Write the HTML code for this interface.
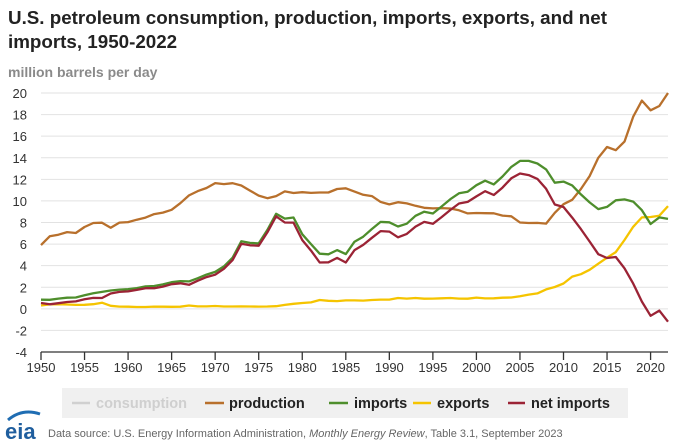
<!DOCTYPE html>
<html><head><meta charset="utf-8"><style>
body{margin:0;background:#fff;width:680px;height:442px;overflow:hidden;font-family:"Liberation Sans",sans-serif}
</style></head><body>
<svg width="680" height="442" viewBox="0 0 680 442" id="svg">
<text x="8" y="24" font-size="18.8" font-weight="bold" fill="#222">U.S. petroleum consumption, production, imports, exports, and net</text>
<text x="8" y="48" font-size="18.8" font-weight="bold" fill="#222">imports, 1950-2022</text>
<text x="8" y="77" font-size="14" font-weight="bold" fill="#8a8a8a">million barrels per day</text>
<g id="grid"></g><g id="lines"></g><g id="xaxis"></g>
<rect x="62" y="388" width="566" height="30" fill="#f0f0f0"/>
<g font-size="14.5" font-weight="bold" fill="#222">
<line x1="72" y1="403" x2="90" y2="403" stroke="#d0d0d0" stroke-width="2.5"/>
<text x="96" y="408" fill="#cfcfcf">consumption</text>
<line x1="205" y1="403" x2="224" y2="403" stroke="#b8702c" stroke-width="2.5"/>
<text x="229" y="408">production</text>
<line x1="329" y1="403" x2="348" y2="403" stroke="#4e8e2c" stroke-width="2.5"/>
<text x="354" y="408">imports</text>
<line x1="413" y1="403" x2="431" y2="403" stroke="#f5c400" stroke-width="2.5"/>
<text x="437" y="408">exports</text>
<line x1="508" y1="403" x2="525" y2="403" stroke="#9b2335" stroke-width="2.5"/>
<text x="531" y="408">net imports</text>
</g>
<g>
<path d="M8 420 Q22 408 40 414" stroke="#1f6db3" stroke-width="3" fill="none"/>
<text x="5" y="439" font-size="22" font-weight="bold" fill="#1f5e9e">eia</text>
</g>
<text x="48" y="437" font-size="11" fill="#666">Data source: U.S. Energy Information Administration, <tspan font-style="italic">Monthly Energy Review</tspan>, Table 3.1, September 2023</text>
</svg>
<script>
const startYear = 1950;
const yTicks = [-4,-2,0,2,4,6,8,10,12,14,16,18,20];
const xTicks = [1950,1955,1960,1965,1970,1975,1980,1985,1990,1995,2000,2005,2010,2015,2020];
const production = [5.91,6.72,6.87,7.11,7.03,7.58,7.95,7.98,7.52,7.99,
8.04,8.26,8.45,8.78,8.92,9.18,9.79,10.51,10.91,11.20,
11.65,11.56,11.64,11.43,10.96,10.49,10.25,10.45,10.88,10.73,
10.81,10.74,10.78,10.78,11.10,11.17,10.86,10.57,10.45,9.91,
9.68,9.88,9.77,9.55,9.36,9.31,9.33,9.30,9.13,8.84,
8.88,8.86,8.85,8.64,8.57,8.00,7.95,7.96,7.90,8.90,
9.7,10.1,11.1,12.3,14.0,15.0,14.7,15.5,17.8,19.3,
18.4,18.8,20.0];
const imports = [0.85,0.84,0.95,1.03,1.05,1.25,1.44,1.57,1.70,1.78,
1.82,1.92,2.08,2.12,2.26,2.47,2.57,2.54,2.84,3.17,
3.42,3.93,4.74,6.26,6.11,6.06,7.31,8.81,8.36,8.46,
6.91,6.0,5.11,5.05,5.44,5.07,6.22,6.68,7.40,8.06,
8.02,7.63,7.89,8.62,9.0,8.83,9.48,10.16,10.71,10.85,
11.46,11.87,11.53,12.26,13.15,13.71,13.71,13.47,12.92,11.69,
11.79,11.44,10.60,9.86,9.24,9.45,10.06,10.14,9.94,9.14,
7.86,8.47,8.33];
const exports = [0.31,0.42,0.43,0.40,0.36,0.37,0.43,0.57,0.28,0.21,
0.20,0.17,0.17,0.21,0.20,0.19,0.20,0.31,0.23,0.23,
0.26,0.22,0.22,0.23,0.22,0.21,0.22,0.24,0.36,0.47,
0.54,0.60,0.82,0.74,0.72,0.78,0.78,0.76,0.82,0.86,
0.86,1.0,0.95,1.0,0.94,0.95,0.98,1.0,0.95,0.94,
1.04,0.97,0.98,1.03,1.05,1.17,1.32,1.43,1.80,2.02,
2.35,2.99,3.21,3.62,4.18,4.74,5.26,6.38,7.60,8.47,
8.51,8.63,9.52];
const netImports = [0.54,0.42,0.52,0.63,0.69,0.88,1.01,1.00,1.42,1.57,
1.62,1.75,1.91,1.91,2.06,2.28,2.37,2.23,2.61,2.94,
3.16,3.71,4.52,6.03,5.89,5.85,7.09,8.57,8.00,7.99,
6.37,5.40,4.29,4.31,4.72,4.29,5.44,5.92,6.58,7.20,
7.16,6.63,6.94,7.62,8.06,7.88,8.50,9.16,9.76,9.91,
10.42,10.90,10.55,11.23,12.10,12.54,12.39,12.04,11.12,9.67,
9.44,8.45,7.39,6.24,5.06,4.71,4.80,3.76,2.34,0.67,
-0.65,-0.16,-1.19];
const NS='http://www.w3.org/2000/svg';
const x0=41,x1=668,yTop=93,yBot=352;
function xs(yr){return x0+(yr-1950)*(x1-x0)/72;}
function ys(v){return yBot-(v+4)*(yBot-yTop)/24;}
const grid=document.getElementById('grid');
yTicks.forEach(t=>{
  if(t>-4){const l=document.createElementNS(NS,'line');
  l.setAttribute('x1',x0);l.setAttribute('x2',x1);l.setAttribute('y1',ys(t));l.setAttribute('y2',ys(t));
  l.setAttribute('stroke','#e2e2e2');l.setAttribute('stroke-width','1');
  
  
  grid.appendChild(l);}
  const tx=document.createElementNS(NS,'text');
  tx.setAttribute('x',27);tx.setAttribute('y',ys(t)+5);tx.setAttribute('text-anchor','end');
  tx.setAttribute('font-size','13');tx.setAttribute('fill','#333');tx.textContent=t;
  
  
  grid.appendChild(tx);
});
const xa=document.getElementById('xaxis');
const ax=document.createElementNS(NS,'line');
ax.setAttribute('x1',x0);ax.setAttribute('x2',x1);ax.setAttribute('y1',yBot);ax.setAttribute('y2',yBot);
ax.setAttribute('stroke','#333');ax.setAttribute('stroke-width','1.3');


xa.appendChild(ax);
xTicks.forEach(t=>{
  const l=document.createElementNS(NS,'line');
  l.setAttribute('x1',xs(t));l.setAttribute('x2',xs(t));l.setAttribute('y1',yBot);l.setAttribute('y2',yBot+8);
  l.setAttribute('stroke','#333');l.setAttribute('stroke-width','1.3');
  
  
  xa.appendChild(l);
  const tx=document.createElementNS(NS,'text');
  tx.setAttribute('x',xs(t));tx.setAttribute('y',yBot+20);tx.setAttribute('text-anchor','middle');
  tx.setAttribute('font-size','13');tx.setAttribute('fill','#333');tx.textContent=t;
  
  
  xa.appendChild(tx);
});
const lines=document.getElementById('lines');
[[exports,'#f5c400','exports-line'],[production,'#b8702c','production-line'],[imports,'#4e8e2c','imports-line'],[netImports,'#9b2335','net-imports-line']].forEach(([d,c,n])=>{
  const p=document.createElementNS(NS,'polyline');
  p.setAttribute('points',d.map((v,i)=>xs(startYear+i).toFixed(1)+','+ys(v).toFixed(1)).join(' '));
  p.setAttribute('fill','none');p.setAttribute('stroke',c);p.setAttribute('stroke-width','2.3');p.setAttribute('stroke-linejoin','round');
  
  
  lines.appendChild(p);
});
</script>
</body></html>
